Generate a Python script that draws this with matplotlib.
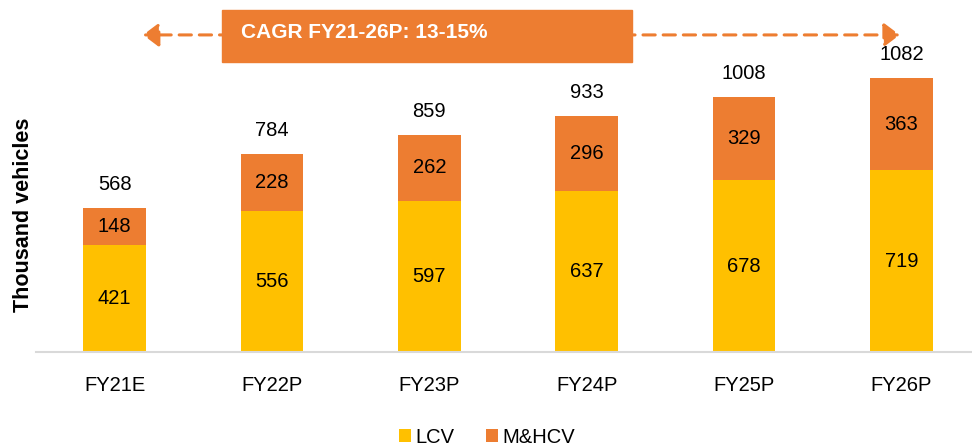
import numpy as np
import matplotlib.pyplot as plt
from matplotlib.patches import Rectangle

years = ["FY21E", "FY22P", "FY23P", "FY24P", "FY25P", "FY26P"]
lcv = [421, 556, 597, 637, 678, 719]
mhcv = [148, 228, 262, 296, 329, 363]
totals = [568, 784, 859, 933, 1008, 1082]

plt.rcParams['font.family'] = ['Liberation Sans', 'DejaVu Sans']

yellow = "#FFC000"
orange = "#ED7D31"
fs = 14.5

fig = plt.figure(figsize=(9.72, 4.48), dpi=100)
ax = fig.add_axes([36 / 972, 96 / 448, 944 / 972, 352 / 448])

x = np.arange(len(years))
w = 0.40
ax.bar(x, lcv, w, color=yellow, label="LCV")
ax.bar(x, mhcv, w, bottom=lcv, color=orange, label="M&HCV")

for i in range(len(years)):
    ax.text(x[i], lcv[i] / 2, str(lcv[i]), ha="center", va="center", fontsize=fs)
    ax.text(x[i], lcv[i] + mhcv[i] / 2, str(mhcv[i]), ha="center", va="center", fontsize=fs)
    ax.text(x[i], totals[i] + 55, str(totals[i]), ha="center", va="bottom", fontsize=fs)

ax.set_xlim(-0.5, 5.5)
ax.set_ylim(0, 1391)
ax.set_xticks(x)
ax.set_xticklabels(years, fontsize=fs)
ax.set_yticks([])
ax.tick_params(axis="x", length=0, pad=17)
for s in ["top", "right", "left"]:
    ax.spines[s].set_visible(False)
ax.spines["bottom"].set_color("#D9D9D9")
ax.spines["bottom"].set_linewidth(1.5)
ax.set_ylabel("Thousand vehicles", fontsize=15.5, fontweight="bold")
ax.yaxis.set_label_coords(-2 / 944, (352 - 215) / 352)

# CAGR arrow and banner
ax.annotate("", xy=(0.18, 1253), xytext=(4.99, 1253),
            arrowprops=dict(arrowstyle="<|-|>,head_length=0.6,head_width=0.45", color=orange, lw=2.2,
                            linestyle=(0, (4, 2.6)), mutation_scale=16, shrinkA=0, shrinkB=0))
ax.add_patch(Rectangle((0.68, 1146), 2.61, 206, color=orange, zorder=3, clip_on=False))
ax.text(0.80, 1262, "CAGR FY21-26P: 13-15%", color="white", fontsize=15,
        fontweight="bold", ha="left", va="center", zorder=4)

fig.legend(loc="center", bbox_to_anchor=(487 / 972, 1 - 437 / 448), ncol=2, frameon=False,
           fontsize=fs, handlelength=0.6, handleheight=0.6, handletextpad=0.2, columnspacing=1.6)

fig.savefig("out.png", dpi=100)
